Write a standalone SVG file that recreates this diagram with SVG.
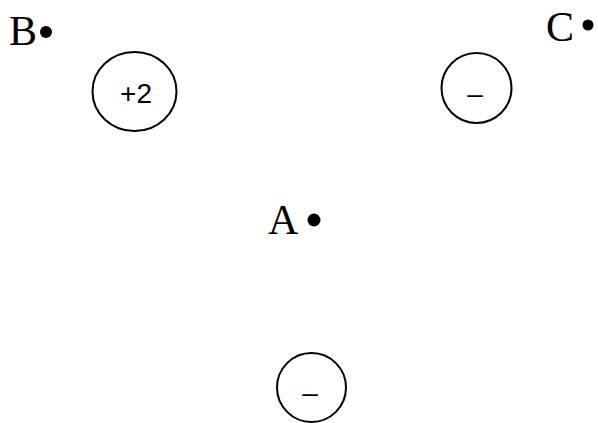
<svg xmlns="http://www.w3.org/2000/svg" width="598" height="423" viewBox="0 0 598 423">
<style>
.lbl{font-family:"Liberation Serif","Times New Roman",serif;font-size:42px;fill:#000}
.chg{font-family:"Liberation Sans",Arial,sans-serif;font-size:28px;fill:#000;text-anchor:middle}
.ring{fill:#fff;stroke:#000;stroke-width:2}
.dot{fill:#000}
</style>
<rect width="598" height="423" fill="#fff"/>
<g id="point-B">
<text class="lbl" x="9" y="45">B</text>
<circle class="dot" cx="46" cy="32" r="6"/>
</g>
<g id="point-C">
<text class="lbl" x="546" y="41">C</text>
<circle class="dot" cx="588" cy="25" r="5.5"/>
</g>
<g id="point-A">
<text class="lbl" x="268" y="234">A</text>
<circle class="dot" cx="314" cy="220" r="6.5"/>
</g>
<g id="charge-plus2">
<ellipse class="ring" cx="134.5" cy="91.5" rx="42" ry="39.5"/>
<text class="chg" x="136" y="103">+2</text>
</g>
<g id="charge-minus-top">
<circle class="ring" cx="476.5" cy="88" r="35"/>
<text class="chg" x="475" y="102.5">–</text>
</g>
<g id="charge-minus-bottom">
<circle class="ring" cx="311.5" cy="387.5" r="34.5"/>
<text class="chg" x="310" y="402">–</text>
</g>
<g id="connectors"></g>
</svg>
